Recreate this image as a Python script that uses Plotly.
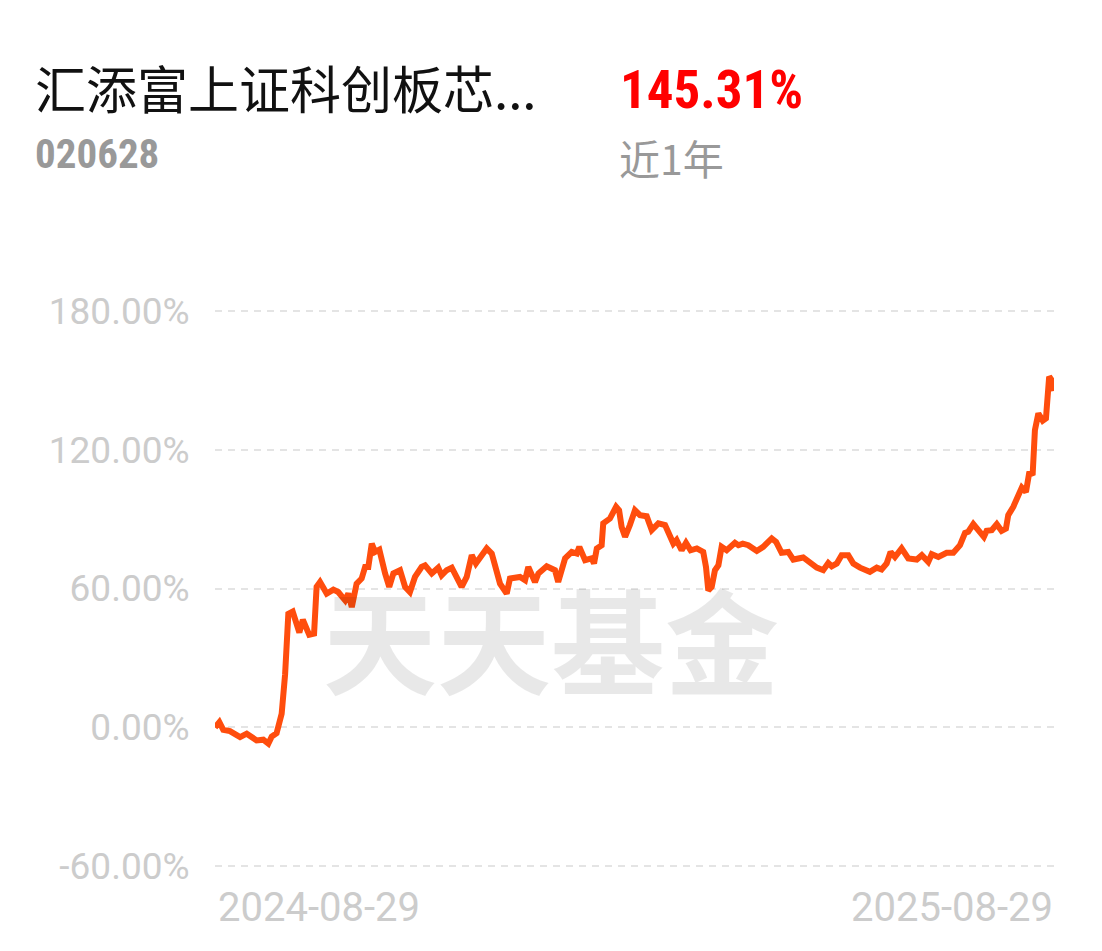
import plotly.graph_objects as go

# ---- data ----
days = [0.0, 1.9, 3.6, 6.5, 10.9, 13.8, 18.1, 21.0, 23.2, 24.7, 26.8, 29.0, 30.5, 31.9, 33.8,
        36.7, 38.2, 41.0, 43.1, 44.2, 45.7, 48.6, 51.5, 53.6, 56.6, 58.0, 59.5, 61.6, 63.8,
        65.3, 66.7, 68.2, 69.6, 71.5, 74.0, 75.8, 77.6, 80.5, 82.7, 84.8, 87.0, 89.9, 91.4,
        94.3, 97.1, 98.6, 100.8, 103.0, 107.3, 109.5, 111.7, 113.5, 118.2, 120.4, 124.0,
        126.9, 128.3, 132.7, 134.9, 136.3, 139.2, 140.7, 144.3, 147.9, 149.3, 152.3, 155.2,
        157.4, 158.5, 161.0, 163.9, 164.9, 166.1, 168.2, 168.9, 171.8, 174.5, 175.8, 176.9,
        178.4, 180.5, 182.7, 184.9, 187.8, 190.0, 192.9, 195.8, 197.9, 199.4, 200.8, 203.0,
        204.9, 206.9, 209.6, 212.4, 213.6, 214.6, 216.1, 217.5, 219.0, 220.4, 222.6, 226.2,
        227.7, 229.6, 232.0, 235.7, 238.5, 242.2, 244.1, 246.5, 249.4, 251.6, 255.9, 260.3,
        261.8, 264.6, 266.8, 268.3, 270.5, 272.6, 275.5, 277.7, 280.6, 284.9, 287.9, 290.0,
        292.2, 293.9, 295.8, 298.7, 301.6, 305.3, 307.5, 310.3, 311.8, 314.7, 318.3, 321.2,
        324.1, 326.3, 327.7, 329.9, 332.8, 334.5, 335.7, 337.9, 340.1, 342.2, 344.1, 345.1,
        347.3, 349.5, 351.0, 352.8, 354.3, 355.7, 356.7, 358.2, 360.1, 361.5, 362.9, 364.0,
        365.0]
returns = [0.0, 2.3, -1.0, -1.6, -4.2, -2.7, -5.6, -5.3, -7.0, -3.9, -2.5, 5.9, 23.0, 49.0, 50.0,
           41.0, 46.5, 40.0, 40.5, 60.7, 62.8, 57.8, 59.5, 58.5, 54.9, 57.8, 52.0, 62.1, 64.3,
           69.3, 69.3, 79.4, 75.8, 76.8, 66.5, 60.7, 66.5, 67.9, 60.7, 58.5, 65.0, 69.3, 70.0,
           66.5, 69.0, 65.7, 67.9, 69.0, 60.7, 65.0, 74.4, 70.8, 77.3, 75.1, 62.1,
           57.8, 64.3, 65.0, 63.6, 69.3, 62.8, 66.5, 69.6, 67.9, 62.8, 73.0, 75.8,
           75.1, 78.0, 72.2, 73.0, 70.8, 77.3, 78.7, 88.1, 90.2, 95.3, 93.8, 86.6,
           82.3, 87.4, 93.8, 91.7, 91.2, 85.2, 88.1, 87.4, 82.3, 79.4, 80.9, 76.5,
           79.7, 76.5, 77.3, 75.8, 69.3, 59.2, 60.7, 67.9, 70.0, 78.0, 76.5, 79.7,
           78.7, 79.4, 78.7, 76.2, 78.0, 81.6, 80.1, 75.4, 75.8, 72.5, 73.4, 70.0,
           69.0, 67.9, 71.0, 69.6, 70.8, 74.4, 74.4, 70.8, 69.0, 67.2, 69.0, 68.2,
           70.8, 75.8, 73.6, 77.3, 73.0, 72.5, 74.4, 71.5, 74.8, 73.6, 75.4, 75.4,
           78.7, 84.0, 84.5, 87.8, 84.5, 82.3, 84.9, 85.2, 87.8, 84.9, 85.9, 91.7,
           95.3, 99.6, 103.6, 101.7, 110.4, 109.0, 128.4, 135.6, 132.5, 133.5, 151.5, 150.0,
           145.31]
y_ticks = [-60, 0, 60, 120, 180]
y_tick_labels = ["-60.00%", "0.00%", "60.00%", "120.00%", "180.00%"]
start_label = "2024-08-29"
end_label = "2025-08-29"
fund_name = "汇添富上证科创板芯..."
fund_code = "020628"
period_return = "145.31%"
period_label = "近1年"
watermark = "天天基金"

# ---- layout geometry (page pixels; the page body has an 8px margin) ----
OFF = 8
W, H = 1102 - 2 * OFF, 951 - 2 * OFF
L, R = 215 - OFF, 1054 - OFF
Y_TOP_VAL, Y_BOT_VAL = 182, -62
T = 306.4 - OFF
B = 870.6 - OFF


def px(x):
    return (x - OFF - L) / (R - L)


def py(y):
    return (B - (y - OFF)) / (B - T)


fig = go.Figure()
fig.add_trace(go.Scatter(
    x=days, y=returns, mode="lines",
    line=dict(color="#ff4d0d", width=6),
    hoverinfo="skip", showlegend=False,
))

fig.update_layout(
    width=W, height=H,
    margin=dict(l=L, r=W - R, t=T, b=H - B),
    paper_bgcolor="white", plot_bgcolor="white",
    showlegend=False,
    xaxis=dict(range=[0, 365], showgrid=False, zeroline=False, showticklabels=False,
               showline=False, ticks=""),
    yaxis=dict(range=[Y_BOT_VAL, Y_TOP_VAL], tickvals=y_ticks, ticktext=y_tick_labels,
               showgrid=True, gridcolor="#e4e4e4", gridwidth=2, griddash="7px,6px",
               zeroline=False, showline=False, ticks="outside", ticklen=17,
               tickcolor="rgba(0,0,0,0)",
               tickfont=dict(family="Roboto", size=37, color="#cccccc")),
)

ann = []
ann.append(dict(text=watermark, x=px(551), y=py(636), xref="paper", yref="paper",
                xanchor="center", yanchor="middle", showarrow=False,
                font=dict(family="Noto Sans CJK SC", size=114, color="rgba(0,0,0,0.09)",
                          weight="bold")))
ann.append(dict(text=fund_name, x=px(33), y=py(88), xref="paper", yref="paper",
                xanchor="left", yanchor="middle", showarrow=False,
                font=dict(family="Noto Sans CJK SC", size=51, color="#111111")))
ann.append(dict(text=fund_code, x=px(33), y=py(155), xref="paper", yref="paper",
                xanchor="left", yanchor="middle", showarrow=False,
                font=dict(family="Liberation Sans Narrow, Roboto Condensed, Roboto", size=41,
                          color="#999999", weight="bold")))
ann.append(dict(text=period_return, x=px(618), y=py(91), xref="paper", yref="paper",
                xanchor="left", yanchor="middle", showarrow=False,
                font=dict(family="Liberation Sans Narrow, Roboto Condensed, Roboto", size=53,
                          color="#ff0000", weight="bold")))
ann.append(dict(text=period_label, x=px(617), y=py(158), xref="paper", yref="paper",
                xanchor="left", yanchor="middle", showarrow=False,
                font=dict(family="Noto Sans CJK SC", size=41, color="#999999")))
ann.append(dict(text=start_label, x=px(216), y=py(907), xref="paper", yref="paper",
                xanchor="left", yanchor="middle", showarrow=False,
                font=dict(family="Roboto", size=40, color="#cccccc")))
ann.append(dict(text=end_label, x=px(1055), y=py(907), xref="paper", yref="paper",
                xanchor="right", yanchor="middle", showarrow=False,
                font=dict(family="Roboto", size=40, color="#cccccc")))
fig.update_layout(annotations=ann)

fig.write_html("out.html")
